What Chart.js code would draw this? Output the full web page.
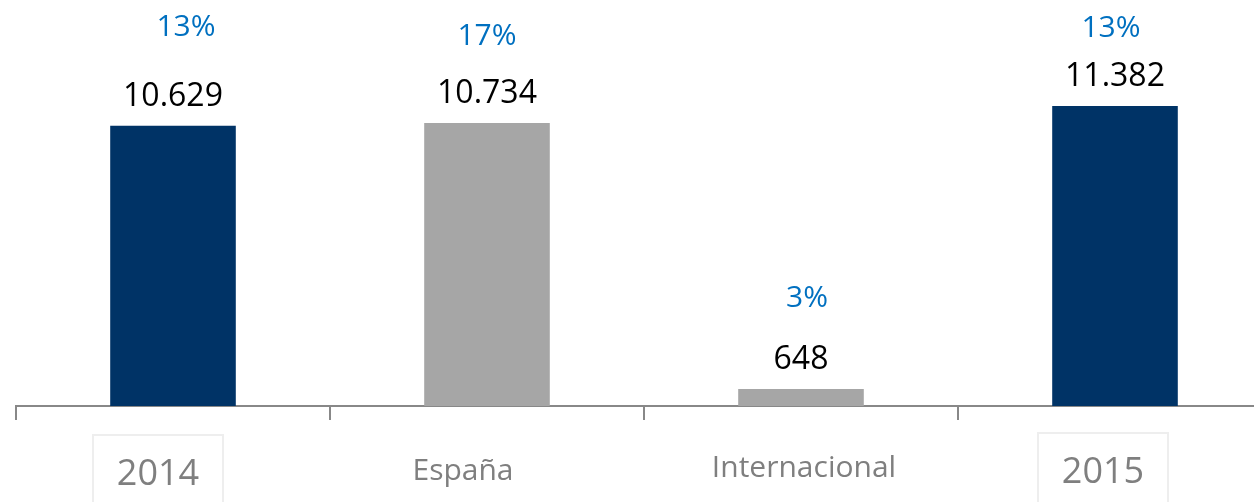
<!DOCTYPE html>
<html>
<head>
<meta charset="utf-8">
<script src="https://cdn.jsdelivr.net/npm/chart.js@4"></script>
<style>
    body { margin: 0; background: #fff; overflow: hidden; }
    #wrap { width: 1254px; height: 502px; overflow: hidden; }
</style>
</head>
<body>
<div id="wrap"><canvas id="myChart" width="1272" height="502"></canvas></div>
<script>
// Datos del gráfico
const categories = ['2014', 'España', 'Internacional', '2015'];
const values = [10629, 10734, 648, 11382];
const percents = ['13%', '17%', '3%', '13%'];
const totals = [true, false, false, true];

// Ajustes de posición de las etiquetas (px)
const pctLift = [90, 78, 82, 69];
const pctShift = [13, 0, 6, -4];
const catShift = [-15, -24, 3, -12];
const catBaseline = [485, 480, 477, 483];

function formatNum(n) {
    return String(n).replace(/\B(?=(\d{3})+(?!\d))/g, '.');
}

const labelsPlugin = {
    id: 'labels',
    afterDatasetsDraw(chart) {
        const ctx = chart.ctx;
        const meta = chart.getDatasetMeta(0);
        ctx.save();
        ctx.textAlign = 'center';
        ctx.textBaseline = 'alphabetic';
        meta.data.forEach((bar, i) => {
            // valor
            ctx.fillStyle = '#000';
            ctx.font = '32px "Open Sans"';
            ctx.fillText(formatNum(values[i]), bar.x, bar.y - 20);
            // porcentaje
            ctx.fillStyle = '#0070C0';
            ctx.font = '30px "Open Sans"';
            ctx.fillText(percents[i], bar.x + pctShift[i], bar.y - pctLift[i]);
            // categoría
            const cx = bar.x + catShift[i];
            const cy = catBaseline[i];
            if (totals[i]) {
                ctx.strokeStyle = '#eeeeee';
                ctx.lineWidth = 2;
                ctx.strokeRect(cx - 65, cy - 50, 130, 70);
                ctx.font = '36px "Open Sans"';
            } else {
                ctx.font = '30px "Open Sans"';
            }
            ctx.fillStyle = '#7f7f7f';
            ctx.fillText(categories[i], cx, cy);
        });
        ctx.restore();
    }
};

const ctx = document.getElementById('myChart').getContext('2d');
const myChart = new Chart(ctx, {
    type: 'bar',
    data: {
        labels: categories,
        datasets: [{
            data: values,
            backgroundColor: totals.map(t => t ? '#003366' : '#a6a6a6'),
            borderWidth: 0,
            barPercentage: 0.4,
            categoryPercentage: 1
        }]
    },
    options: {
        responsive: false,
        animation: false,
        devicePixelRatio: 1,
        layout: { padding: { left: 16, right: 0, top: 0, bottom: 0 } },
        plugins: {
            legend: { display: false },
            tooltip: { enabled: false }
        },
        scales: {
            x: {
                grid: {
                    offset: true,
                    drawOnChartArea: false,
                    drawTicks: true,
                    tickLength: 14,
                    color: '#888',
                    lineWidth: 2
                },
                border: { color: '#888', width: 2 },
                ticks: { display: false },
                afterFit(scale) { scale.height = 96; }
            },
            y: {
                display: false,
                min: 0,
                max: 15400
            }
        }
    },
    plugins: [labelsPlugin]
});
</script>
</body>
</html>
